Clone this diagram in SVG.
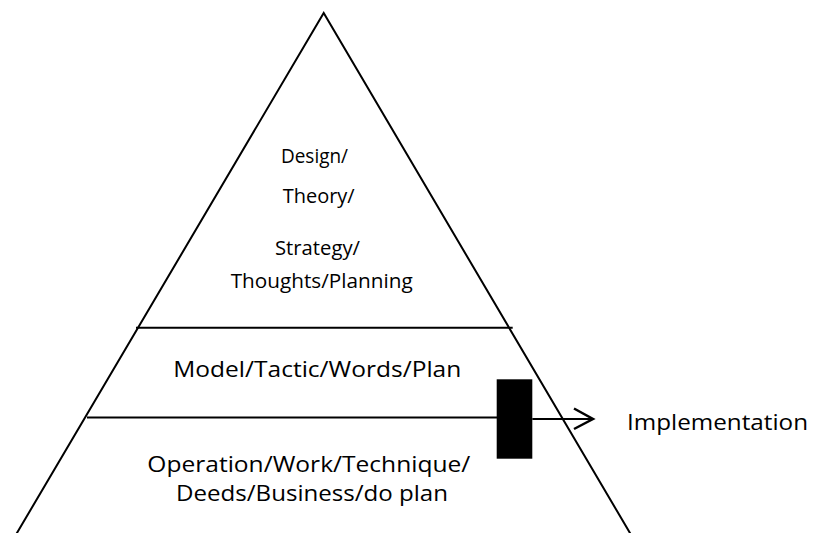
<svg xmlns="http://www.w3.org/2000/svg" width="838" height="533" viewBox="0 0 838 533">
  <defs>
    <style>
      .ln { stroke: #000; stroke-width: 2; fill: none; stroke-linecap: butt; }
      .t { font-family: "Open Sans", "Noto Sans", "Liberation Sans", sans-serif; font-size: 20.5px; fill: #000; }
      .tb { font-family: "Open Sans", "Noto Sans", "Liberation Sans", sans-serif; font-size: 22px; fill: #000; }
    </style>
    <marker id="chev" markerUnits="userSpaceOnUse" markerWidth="24" markerHeight="24" viewBox="0 0 24 24" refX="21" refY="12" orient="auto">
      <polyline points="2,1.5 21,12 2,22" fill="none" stroke="#000" stroke-width="2.5"/>
    </marker>
  </defs>
  <rect width="838" height="533" fill="#fff"/>

  <g id="pyramid">
    <path class="ln" d="M12.8,540 L323.7,13 L634.1,540"/>
  </g>

  <g id="tier-top">
    <text class="t" x="281" y="162.7" textLength="67" lengthAdjust="spacingAndGlyphs">Design/</text>
    <text class="t" x="282.7" y="202.7" textLength="72" lengthAdjust="spacingAndGlyphs">Theory/</text>
    <text class="t" x="275" y="255" textLength="85" lengthAdjust="spacingAndGlyphs">Strategy/</text>
    <text class="t" x="230.7" y="288.3" textLength="182" lengthAdjust="spacingAndGlyphs">Thoughts/Planning</text>
  </g>

  <g id="divider-1">
    <line class="ln" x1="136" y1="327.7" x2="512.7" y2="327.7" stroke-width="2.5"/>
  </g>

  <g id="tier-middle">
    <text class="tb" x="173.3" y="377.3" textLength="288" lengthAdjust="spacingAndGlyphs">Model/Tactic/Words/Plan</text>
  </g>

  <g id="divider-2">
    <line class="ln" x1="87" y1="417.5" x2="497" y2="417.5"/>
  </g>

  <g id="tier-bottom">
    <text class="tb" x="147.3" y="471.7" textLength="323" lengthAdjust="spacingAndGlyphs">Operation/Work/Technique/</text>
    <text class="tb" x="176" y="501" textLength="272" lengthAdjust="spacingAndGlyphs">Deeds/Business/do plan</text>
  </g>

  <g id="gate">
    <rect x="496.7" y="379.3" width="35.6" height="79.4" fill="#000"/>
  </g>

  <g id="implementation">
    <text class="tb" x="627" y="430" textLength="181" lengthAdjust="spacingAndGlyphs">Implementation</text>
  </g>

  <g id="connectors">
    <line class="ln" x1="532.3" y1="419" x2="593" y2="419" stroke-width="2.5" marker-end="url(#chev)"/>
  </g>
</svg>
